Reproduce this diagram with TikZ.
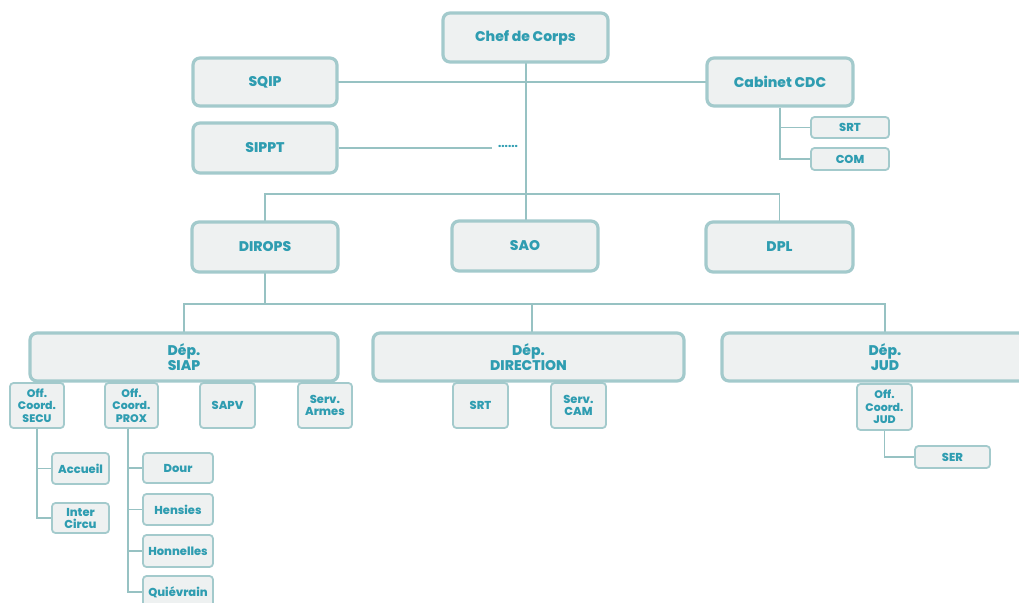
\documentclass[tikz,border=0pt]{standalone}
\usepackage{fontspec}
\setmainfont{Poppins}[BoldFont={Poppins ExtraBold}]
\usetikzlibrary{positioning}
\definecolor{boxfill}{HTML}{EEF1F1}
\definecolor{boxline}{HTML}{A3CACC}
\definecolor{linkline}{HTML}{97C2C3}
\definecolor{txt}{HTML}{2F9DB1}
\begin{document}
\begin{tikzpicture}[x=1pt, y=-1pt,
  bigbox/.style={draw=boxline, line width=3.2pt, fill=boxfill, rounded corners=7pt, text=txt, font=\fontsize{14}{14.5}\selectfont\bfseries, align=center, inner sep=0pt},
  smallbox/.style={draw=boxline, line width=1.8pt, fill=boxfill, rounded corners=3.5pt, text=txt, font=\fontsize{11.5}{12}\selectfont\bfseries, align=center, inner sep=0pt},
  tinytext/.style={font=\fontsize{11}{12.5}\selectfont\bfseries},
  link/.style={draw=linkline, line width=1.8pt}]
  \useasboundingbox (0,0) rectangle (1019,602);

  % Edges (drawn first, under the boxes)
  \coordinate (topbus) at (526,194);
  \coordinate (opsbus) at (532,304);
  \coordinate (chefbot) at (526,62);
  \draw[link] (265,82) -- (780,82);
  \draw[link] (chefbot) -- (topbus);
  \draw[link] (265,247) |- (topbus) -| (779.5,247);
  \draw[link] (topbus) -- (526,246);
  \draw[link] (265,247) |- (opsbus);
  \draw[link] (184,357) |- (opsbus) -| (885,357);
  \draw[link] (opsbus) -- (opsbus |- 528,357);

  % Nodes
  \node[bigbox, minimum width=165, minimum height=49] (chef) at (525.5,37.5) {Chef de Corps};
  \node[bigbox, minimum width=144, minimum height=48] (sqip) at (265,82) {SQIP};
  \node[bigbox, minimum width=146, minimum height=48] (cab) at (780,82) {Cabinet CDC};
  \node[smallbox, minimum width=78, minimum height=21] (cabsrt) at (850,127.5) {SRT};
  \node[smallbox, minimum width=78, minimum height=22] (cabcom) at (850,159) {COM};
  \node[bigbox, minimum width=144, minimum height=50] (sippt) at (265,148) {SIPPT};
  \node[text=txt, font=\fontsize{11}{11}\selectfont\bfseries, inner sep=1pt] (dots) at (508,148) {\raisebox{2.5pt}{......}};
  \node[bigbox, minimum width=146, minimum height=50] (dirops) at (265,247) {DIROPS};
  \node[bigbox, minimum width=146, minimum height=50] (sao) at (525,246) {\raisebox{2pt}{SAO}};
  \node[bigbox, minimum width=147, minimum height=50] (dpl) at (779.5,247) {DPL};

  \node[bigbox, minimum width=308, minimum height=48] (siap) at (184,357) {Dép.\\SIAP};
  \node[bigbox, minimum width=311, minimum height=48] (direction) at (528.5,357) {Dép.\\DIRECTION};
  \node[bigbox, minimum width=326, minimum height=48] (jud) at (885,357) {Dép.\\JUD};

  \node[smallbox, tinytext, minimum width=54, minimum height=45] (secu) at (37,405.5) {Off.\\Coord.\\SECU};
  \node[smallbox, tinytext, minimum width=53, minimum height=45] (prox) at (131.5,405.5) {Off.\\Coord.\\PROX};
  \node[smallbox, minimum width=55, minimum height=45] (sapv) at (227.5,405.5) {SAPV};
  \node[smallbox, minimum width=54, minimum height=45] (armes) at (325,405.5) {Serv.\\Armes};

  \node[smallbox, minimum width=57, minimum height=31] (accueil) at (80.5,468.5) {Accueil};
  \node[smallbox, minimum width=57, minimum height=30] (inter) at (80.5,518) {Inter\\Circu};
  \node[smallbox, minimum width=70, minimum height=30] (dour) at (178,468) {Dour};
  \node[smallbox, minimum width=70, minimum height=31] (hensies) at (178,509.5) {Hensies};
  \node[smallbox, minimum width=70, minimum height=32] (honnelles) at (178,551) {Honnelles};
  \node[smallbox, minimum width=70, minimum height=32] (quievrain) at (178,592) {Quiévrain};

  \node[smallbox, minimum width=55, minimum height=45] (dirsrt) at (480.5,405.5) {SRT};
  \node[smallbox, minimum width=55, minimum height=45] (cam) at (578.5,405.5) {Serv.\\CAM};
  \node[smallbox, tinytext, minimum width=55, minimum height=46] (offjud) at (884.5,407) {Off.\\Coord.\\JUD};
  \node[smallbox, minimum width=75, minimum height=22] (ser) at (952.5,457) {SER};

  % Edges between named boxes
  \draw[link] (sippt) -- ([xshift=-5pt]sippt -| dots.west);
  \draw[link] (cab) |- (cabsrt);
  \draw[link] (cab) |- (cabcom);
  \draw[link] (secu) |- (accueil);
  \draw[link] (secu) |- (inter);
  \coordinate (proxbot) at ([xshift=-3.5pt]prox.south);
  \draw[link] (proxbot) |- (dour);
  \draw[link] (proxbot) |- (hensies);
  \draw[link] (proxbot) |- (honnelles);
  \draw[link] (proxbot) |- (quievrain);
  \draw[link] (offjud) |- (ser);
\end{tikzpicture}
\end{document}
